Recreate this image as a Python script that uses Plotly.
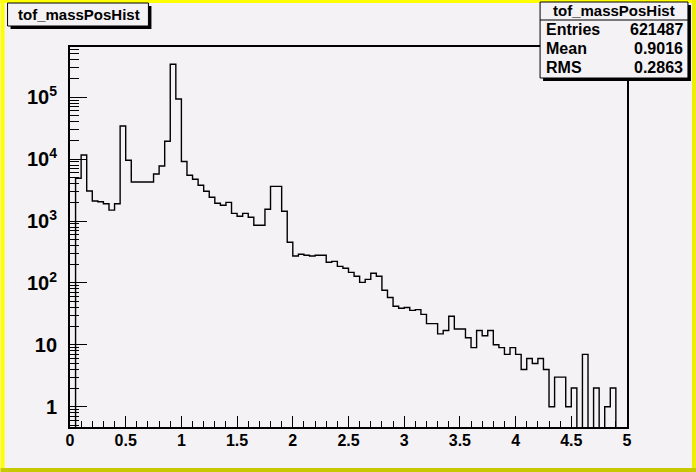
import numpy as np
import plotly.graph_objects as go

# ---- data ----
x_min, x_max, n_bins = 0.0, 5.0, 100
counts = [
    0, 4900, 11650, 3050, 2100, 2050, 1900, 1500, 1900, 34300,
    9570, 4270, 4270, 4270, 4270, 5740, 7740, 19400, 340000, 93500,
    9140, 5470, 4720, 3780, 3020, 2420, 1930, 1800, 2000, 1330,
    1190, 1330, 1150, 852, 852, 1550, 3630, 3630, 1435, 453,
    272, 290, 280, 272, 280, 280, 215, 223, 185, 172,
    148, 128, 102, 114, 143, 128, 76, 58, 42, 39,
    40, 36, 37, 31, 22, 22, 15, 17, 29, 18,
    18, 13, 9, 17, 14, 17, 10, 9, 7, 9,
    7, 4, 6, 5, 6, 4, 1, 3, 3, 1,
    2, 0, 7, 0, 2, 0, 1, 2, 0, 0,
]
hist_name = "tof_massPosHist"
stat_labels = ["Entries", "Mean", "RMS"]
stat_values = ["621487", "0.9016", "0.2863"]
x_tickvals = [0, 0.5, 1, 1.5, 2, 2.5, 3, 3.5, 4, 4.5, 5]
x_ticktext = ["0", "0.5", "1", "1.5", "2", "2.5", "3", "3.5", "4", "4.5", "5"]

# ---- layout geometry (pixels) ----
W, H = 696, 472
L, R, T, B = 69.5, 627.0, 47.0, 427.0
y_range = [-0.328, 5.811]
bg = "#f5f2f5"
FONT = "Liberation Sans"

edges = np.linspace(x_min, x_max, n_bins + 1)
floor_val = 10 ** (y_range[0] - 2)  # empty bins drop below the frame, like ROOT
vals = [c if c > 0 else floor_val for c in counts]
xs = list(edges)
ys = vals + [vals[-1]]

fig = go.Figure()
fig.add_trace(go.Scatter(x=xs, y=ys, mode="lines", line=dict(color="black", width=1.4, shape="hv"),
                         hoverinfo="skip", showlegend=False))

def px(xp):
    return (xp - L) / (R - L)

def py(yp):
    return (B - yp) / (B - T)

shapes = []
annotations = []

# canvas yellow border
bw = 4
shapes += [
    dict(type="rect", xref="paper", yref="paper", x0=px(0), x1=px(W), y0=py(0), y1=py(3),
         fillcolor="#ffff00", line_width=0, layer="above"),
    dict(type="rect", xref="paper", yref="paper", x0=px(0), x1=px(bw), y0=py(0), y1=py(H),
         fillcolor="#ffff00", line_width=0, layer="above"),
    dict(type="rect", xref="paper", yref="paper", x0=px(W - bw), x1=px(W), y0=py(0), y1=py(H),
         fillcolor="#eeee00", line_width=0, layer="above"),
    dict(type="rect", xref="paper", yref="paper", x0=px(0), x1=px(W), y0=py(H - bw), y1=py(H),
         fillcolor="#c8c800", line_width=0, layer="above"),
]

def box(x0, y0, x1, y1, sh=3):
    return [
        dict(type="rect", xref="paper", yref="paper", x0=px(x0 + sh), x1=px(x1 + sh),
             y0=py(y1 + sh), y1=py(y0 + sh), fillcolor="black", line_width=0, layer="above"),
        dict(type="rect", xref="paper", yref="paper", x0=px(x0), x1=px(x1),
             y0=py(y1), y1=py(y0), fillcolor=bg, line=dict(color="black", width=1), layer="above"),
    ]

# title box
shapes += box(7, 3, 148, 26)
annotations.append(dict(xref="paper", yref="paper", x=px(79), y=py(15), text="<b>%s</b>" % hist_name,
                        showarrow=False, font=dict(family=FONT, size=15, color="black"),
                        xanchor="center", yanchor="middle"))

# stats box
sx0, sy0, sx1, sy1 = 540, 2, 688, 78
shapes += box(sx0, sy0, sx1, sy1)
shapes.append(dict(type="line", xref="paper", yref="paper", x0=px(sx0), x1=px(sx1), y0=py(20), y1=py(20),
                   line=dict(color="black", width=1), layer="above"))
annotations.append(dict(xref="paper", yref="paper", x=px((sx0 + sx1) / 2), y=py(11), text="<b>%s</b>" % hist_name,
                        showarrow=False, font=dict(family=FONT, size=15, color="black"),
                        xanchor="center", yanchor="middle"))
for i, (lab, val) in enumerate(zip(stat_labels, stat_values)):
    yy = 30 + i * 18.5
    annotations.append(dict(xref="paper", yref="paper", x=px(sx0 + 4), y=py(yy), text="<b>%s</b>" % lab,
                            showarrow=False, font=dict(family=FONT, size=16, color="black"),
                            xanchor="left", yanchor="middle"))
    annotations.append(dict(xref="paper", yref="paper", x=px(sx1 - 3), y=py(yy), text="<b>%s</b>" % val,
                            showarrow=False, font=dict(family=FONT, size=16, color="black"),
                            xanchor="right", yanchor="middle"))

fig.update_layout(
    width=W, height=H,
    margin=dict(l=L, r=W - R, t=T, b=H - B, pad=0),
    paper_bgcolor=bg, plot_bgcolor=bg,
    shapes=shapes, annotations=annotations,
    showlegend=False,
)
fig.update_xaxes(
    range=[x_min, x_max], tickvals=x_tickvals, ticktext=x_ticktext,
    ticks="inside", ticklen=11, tickwidth=1, tickcolor="black",
    minor=dict(ticks="inside", dtick=0.1, ticklen=6, tickwidth=1, tickcolor="black", showgrid=False),
    showline=True, linecolor="black", linewidth=1.5, mirror=True,
    showgrid=False, zeroline=False, ticklabelstandoff=-2,
    tickfont=dict(family=FONT, size=16, color="black", weight="bold"),
)
fig.update_yaxes(
    type="log", range=y_range, dtick=1, exponentformat="power",
    ticks="inside", ticklen=17, tickwidth=1, tickcolor="black",
    minor=dict(ticks="inside", dtick="D1", ticklen=9, tickwidth=1, tickcolor="black", showgrid=False),
    showline=True, linecolor="black", linewidth=1.5, mirror=True,
    showgrid=False, zeroline=False, ticklabelstandoff=8,
    tickfont=dict(family=FONT, size=16, color="black", weight="bold"),
)

fig.write_html("out.html", config={"displayModeBar": False},
               post_script="document.body.style.margin='0';")
